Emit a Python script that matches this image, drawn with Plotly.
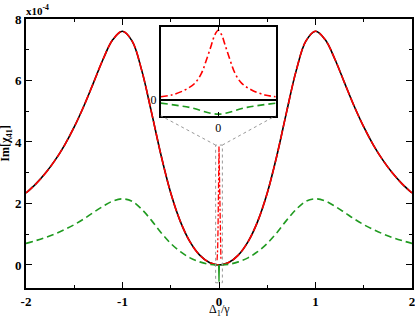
import plotly.graph_objects as go

# ---------------- data ----------------
delta = [-2.0, -1.9, -1.8, -1.7, -1.6, -1.5, -1.4, -1.3, -1.2, -1.1, -1.0,
         -0.9, -0.8, -0.7, -0.6, -0.5, -0.4, -0.3, -0.2, -0.1, 0.0,
         0.1, 0.2, 0.3, 0.4, 0.5, 0.6, 0.7, 0.8, 0.9, 1.0,
         1.1, 1.2, 1.3, 1.4, 1.5, 1.6, 1.7, 1.8, 1.9, 2.0]
im_black = [2.34, 2.63, 2.98, 3.40, 3.90, 4.49, 5.17, 5.93, 6.70, 7.33, 7.60,
            7.28, 6.32, 4.97, 3.56, 2.34, 1.41, 0.75, 0.32, 0.08, 0.0,
            0.08, 0.32, 0.75, 1.41, 2.34, 3.56, 4.97, 6.32, 7.28, 7.60,
            7.33, 6.70, 5.93, 5.17, 4.49, 3.90, 3.40, 2.98, 2.63, 2.34]
im_green = [0.70, 0.79, 0.89, 1.01, 1.15, 1.31, 1.50, 1.71, 1.91, 2.08, 2.15,
            2.07, 1.81, 1.45, 1.05, 0.70, 0.43, 0.23, 0.10, 0.02, 0.0,
            0.02, 0.10, 0.23, 0.43, 0.70, 1.05, 1.45, 1.81, 2.07, 2.15,
            2.08, 1.91, 1.71, 1.50, 1.31, 1.15, 1.01, 0.89, 0.79, 0.70]

spike_x = [-0.02, -0.014, -0.01, -0.005, 0.0, 0.005, 0.01, 0.014, 0.02]
spike_y = [0.15, 0.5, 1.2, 2.9, 3.85, 2.9, 1.2, 0.5, 0.15]
dip_x = [-0.004, 0.0, 0.004]
dip_y = [0.0, -0.55, 0.0]

inset_x = [-1.0, -0.81, -0.58, -0.41, -0.29, -0.206, -0.12, -0.06, 0.0,
           0.06, 0.12, 0.206, 0.29, 0.41, 0.58, 0.81, 1.0]
inset_red = [0.21, 0.32, 0.64, 1.06, 1.72, 2.55, 3.5, 4.15, 4.45,
             4.15, 3.5, 2.55, 1.72, 1.06, 0.64, 0.32, 0.21]
inset_gx = [-1.0, -0.5, 0.0, 0.5, 1.0]
inset_green = [-0.2, -0.47, -0.9, -0.47, -0.2]

x_ticks = [-2, -1, 0, 1, 2]
y_ticks = [0, 2, 4, 6, 8]
y_ticklabels = ["0", "2", "4", "6", "8"]

# zoom window (main data coords)
win_x = [-0.035, 0.035]
win_y = [-0.58, 3.9]

# ---------------- layout constants ----------------
W, H = 415, 318
ML, MR, MT, MB = 26, 3, 19, 30
XR = [-2, 2]
YR = [-0.75, 8]
INX = [0.349, 0.647]
INY = [0.6405, 0.971]
FONT = "Liberation Serif, Times New Roman, serif"
RED = "#ff0000"
GREEN = "#1f9a1f"

fig = go.Figure()
fig.add_trace(go.Scatter(x=delta, y=im_black, mode="lines", line=dict(color="black", width=1.6, shape="spline"),
                         showlegend=False, hoverinfo="skip"))
fig.add_trace(go.Scatter(x=delta, y=im_black, mode="lines",
                         line=dict(color=RED, width=1.6, shape="spline", dash="9px,3px"),
                         showlegend=False, hoverinfo="skip"))
fig.add_trace(go.Scatter(x=delta, y=im_green, mode="lines",
                         line=dict(color=GREEN, width=1.6, shape="spline", dash="7px,4px"),
                         showlegend=False, hoverinfo="skip"))
fig.add_trace(go.Scatter(x=spike_x, y=spike_y, mode="lines",
                         line=dict(color=RED, width=1.3, dash="6px,2px,2px,2px"),
                         showlegend=False, hoverinfo="skip"))
fig.add_trace(go.Scatter(x=dip_x, y=dip_y, mode="lines", line=dict(color=GREEN, width=1.3),
                         showlegend=False, hoverinfo="skip"))

# inset traces
fig.add_trace(go.Scatter(x=inset_x, y=inset_red, mode="lines", xaxis="x2", yaxis="y2",
                         line=dict(color=RED, width=1.6, shape="spline", dash="7px,3px,2px,3px"),
                         showlegend=False, hoverinfo="skip"))
fig.add_trace(go.Scatter(x=inset_gx, y=inset_green, mode="lines", xaxis="x2", yaxis="y2",
                         line=dict(color=GREEN, width=1.6, shape="spline", dash="7px,4px"),
                         showlegend=False, hoverinfo="skip"))

tickfont = dict(family=FONT, size=13, color="black", weight="bold")

fig.update_layout(
    width=W, height=H, margin=dict(l=ML, r=MR, t=MT, b=MB, autoexpand=False),
    paper_bgcolor="white", plot_bgcolor="white",
    xaxis=dict(range=XR, tickvals=x_ticks, ticktext=[str(v) for v in x_ticks], automargin=False,
               ticklabeloverflow="allow",
               ticks="inside", ticklen=6, tickwidth=1.3, tickcolor="black",
               showline=True, linewidth=2, linecolor="black", mirror="allticks",
               showgrid=False, zeroline=False, tickfont=tickfont,
               minor=dict(dtick=0.5, ticks="inside", ticklen=3, tickwidth=1.2, tickcolor="black", showgrid=False)),
    yaxis=dict(range=YR, tickvals=y_ticks, ticktext=y_ticklabels, automargin=False,
               ticklabeloverflow="allow",
               ticks="inside", ticklen=6, tickwidth=1.3, tickcolor="black",
               showline=True, linewidth=2, linecolor="black", mirror="allticks",
               showgrid=False, zeroline=False, tickfont=tickfont,
               minor=dict(tickvals=[1, 3, 5, 7], ticks="inside", ticklen=3, tickwidth=1.2, tickcolor="black", showgrid=False)),
    xaxis2=dict(domain=INX, anchor="y2", range=[-1, 1], tickvals=[0], ticktext=["0"], automargin=False,
                ticks="inside", ticklen=4, tickwidth=1.2, tickcolor="black",
                showline=True, linewidth=1.5, linecolor="black", mirror="allticks",
                showgrid=False, zeroline=False,
                tickfont=dict(family=FONT, size=12, color="#000000")),
    yaxis2=dict(domain=INY, anchor="x2", range=[-1, 4.67], tickvals=[0], ticktext=["0"], automargin=False,
                ticks="inside", ticklen=4, tickwidth=1.2, tickcolor="black",
                showline=True, linewidth=1.5, linecolor="black", mirror="allticks",
                showgrid=False, zeroline=True, zerolinecolor="black", zerolinewidth=1.5,
                tickfont=dict(family=FONT, size=12, color="#000000")),
)

# zoom window rectangle and connectors
fig.add_shape(type="rect", xref="x", yref="y", x0=win_x[0], x1=win_x[1], y0=win_y[0], y1=win_y[1],
              line=dict(color="#999999", width=1, dash="dot"))
cx0 = XR[0] + INX[0] * (XR[1] - XR[0])
cx1 = XR[0] + INX[1] * (XR[1] - XR[0])
cy = YR[0] + INY[0] * (YR[1] - YR[0])
fig.add_shape(type="line", xref="x", yref="y", x0=win_x[0], y0=win_y[1], x1=cx0, y1=cy,
              line=dict(color="#999999", width=1, dash="dot"))
fig.add_shape(type="line", xref="x", yref="y", x0=win_x[1], y0=win_y[1], x1=cx1, y1=cy,
              line=dict(color="#999999", width=1, dash="dot"))

# texts
fig.add_annotation(xref="paper", yref="paper", x=-0.005, y=1.0, xanchor="left", yanchor="bottom",
                   text="x10<sup>-4</sup>", showarrow=False,
                   font=dict(family=FONT, size=11, color="black", weight="bold"))
fig.add_annotation(xref="paper", yref="paper", x=0.5, y=-0.08, xanchor="center", yanchor="middle",
                   text="Δ<sub>1</sub>/γ", showarrow=False,
                   font=dict(family=FONT, size=12, color="black"))
fig.add_annotation(xref="paper", yref="paper", x=-0.026, y=0.54, xanchor="right", yanchor="middle",
                   text="Im[χ<sub>41</sub>]", showarrow=False, textangle=-90,
                   font=dict(family=FONT, size=12, color="black", weight="bold"))

fig.write_html("out.html", config={"displayModeBar": False},
               post_script="document.body.style.margin='0';document.body.style.padding='0';")
